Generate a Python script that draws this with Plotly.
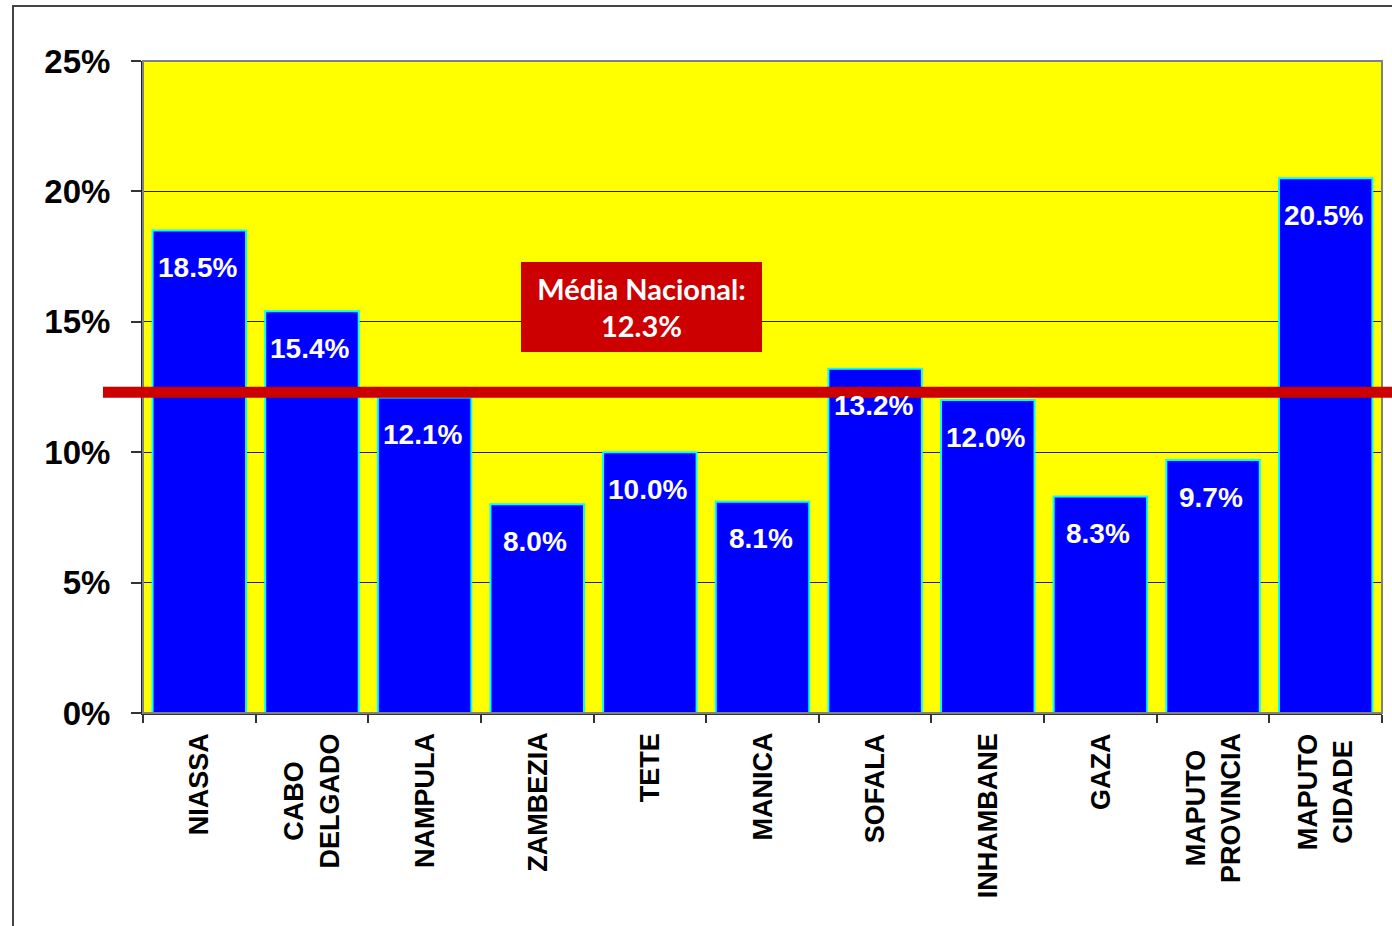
import plotly.graph_objects as go

# Province values (%)
provinces = ["NIASSA", "CABO<br>DELGADO", "NAMPULA", "ZAMBEZIA", "TETE", "MANICA",
             "SOFALA", "INHAMBANE", "GAZA", "MAPUTO<br>PROVINCIA", "MAPUTO<br>CIDADE"]
values = [18.5, 15.4, 12.1, 8.0, 10.0, 8.1, 13.2, 12.0, 8.3, 9.7, 20.5]
national_mean = 12.3
y_ticks = [0, 5, 10, 15, 20, 25]

W, H = 1392, 926
L, R, T, B = 143, 10, 61, 213
plot_w = W - L - R
plot_h = H - T - B

def px_x(px):
    return (px - L) / plot_w

def px_y(py):
    return (H - B - py) / plot_h

fig = go.Figure()
fig.add_trace(go.Bar(
    x=provinces, y=values,
    marker=dict(color="#0000ff", line=dict(color="#00ffff", width=2)),
    width=0.83,
    hoverinfo="skip",
))

annotations = []
# value labels inside bar tops
for p, v in zip(provinces, values):
    annotations.append(dict(
        x=p, y=v, xref="x", yref="y", text=f"{v:.1f}%", showarrow=False,
        yanchor="middle", yshift=-37, xshift=-2,
        font=dict(family="Liberation Sans", size=28, color="white", weight="bold"),
    ))
# rotated category labels
for p in provinces:
    annotations.append(dict(
        x=p, y=0, xref="x", yref="paper", text=p, showarrow=False,
        textangle=-90, align="center", xanchor="center", yanchor="top", yshift=-18,
        font=dict(family="Liberation Sans", size=27, color="black", weight="bold"),
    ))
# national mean box
annotations.append(dict(
    x=px_x(641.5), y=px_y(307), xref="paper", yref="paper",
    text=f"Média Nacional:<br>{national_mean:.1f}%", showarrow=False,
    xanchor="center", yanchor="middle", align="center",
    bgcolor="#cc0000", bordercolor="#cc0000", borderwidth=0, borderpad=0,
    width=241, height=90,
    font=dict(family="Lato", size=29, color="white", weight="bold"),
))

shapes = [
    # outer frame
    dict(type="rect", xref="paper", yref="paper",
         x0=px_x(13), x1=px_x(1420), y0=px_y(960), y1=px_y(6),
         line=dict(color="#444444", width=2), fillcolor="rgba(0,0,0,0)", layer="below"),
    # plot area outline (top/right)
    dict(type="rect", xref="paper", yref="paper", x0=0, x1=1, y0=0, y1=1,
         line=dict(color="#808080", width=2), fillcolor="rgba(0,0,0,0)", layer="above"),
    # national mean line
    dict(type="line", xref="paper", yref="y", x0=px_x(103), x1=px_x(1400),
         y0=national_mean, y1=national_mean,
         line=dict(color="#cc0000", width=11), layer="above"),
]

fig.update_layout(
    width=W, height=H,
    margin=dict(l=L, r=R, t=T, b=B),
    paper_bgcolor="white",
    plot_bgcolor="#ffff00",
    showlegend=False,
    bargap=0.17,
    annotations=annotations,
    shapes=shapes,
    xaxis=dict(
        type="category", showticklabels=False, showgrid=False,
        tickson="boundaries", ticks="outside", ticklen=8, tickcolor="#333333", tickwidth=2,
        showline=True, linecolor="#333333", linewidth=2,
        range=[-0.5, len(provinces) - 0.5],
    ),
    yaxis=dict(
        range=[0, 25], tickvals=y_ticks, ticktext=[f"{t}%" for t in y_ticks],
        ticks="outside", ticklen=10, tickcolor="#333333", tickwidth=2,
        showgrid=True, gridcolor="#222222", gridwidth=1,
        showline=True, linecolor="#222222", linewidth=2, zeroline=False,
        ticklabelstandoff=14,
        tickfont=dict(family="Liberation Sans", size=33, color="black", weight="bold"),
    ),
)

fig.write_html("out.html")
